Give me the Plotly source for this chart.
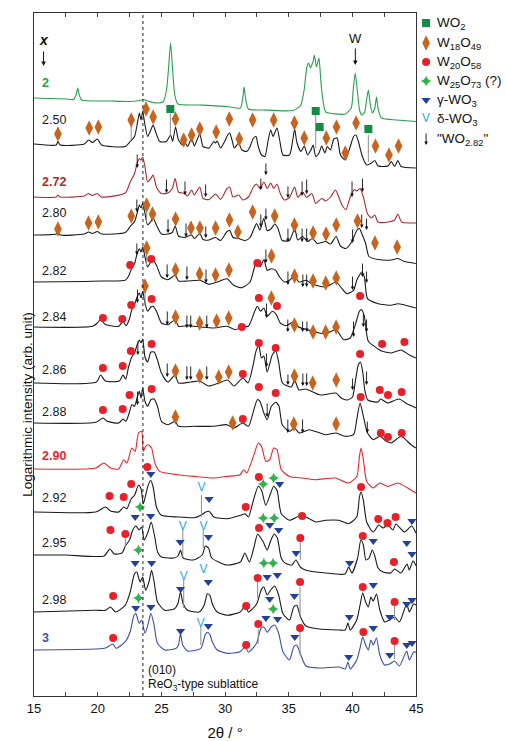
import plotly.graph_objects as go

FONT = "Liberation Sans, Arial, sans-serif"

# ---------------- samples (x in WO_x), stacking offsets, label heights ----------------
labels = ["2", "2.50", "2.72", "2.80", "2.82", "2.84", "2.86", "2.88", "2.90", "2.92", "2.95", "2.98", "3"]
offsets = [598, 552, 499, 461, 414, 369, 313, 273, 227, 184, 141, 84, 46]
label_h = [15, 24, 15, 22, 11, 10, 13, 11, 13, 14, 12, 12, 12]
colors = ["#27a04f", "#1a1a1a", "#ad2a2e", "#1a1a1a", "#1a1a1a", "#1a1a1a", "#1a1a1a",
          "#1a1a1a", "#e8262b", "#1a1a1a", "#1a1a1a", "#1a1a1a", "#3f4ea8"]
bold = [True, False, True, False, False, False, False, False, True, False, False, False, True]

# ---------------- patterns: (2theta, log intensity above own baseline) ----------------
p_200 = [(15.0,0),(17.5,-1),(18.1,-1.5),(18.3,3),(18.43,10),(18.55,3),(18.75,-2),(21.0,-3),(22.4,-3.5),(23.3,-2.5),(23.6,-1.5),(23.9,-3),(24.7,-5),(25.15,-3.5),(25.4,8),(25.55,28),(25.72,55),(25.88,28),(26.05,3),(26.3,-6),(28.0,-7),(30.15,-8.5),(31.2,-10),(31.38,0),(31.49,11),(31.6,0),(31.83,-11),(33.0,-12),(35.3,-12.5),(35.9,-8),(36.2,8),(36.4,30),(36.55,35),(36.7,30),(36.8,33),(36.9,36),(37.0,43),(37.1,36),(37.16,31),(37.28,36),(37.37,40),(37.48,23),(37.58,8),(37.75,-8),(37.9,-14),(39.43,-16),(39.9,-10),(40.05,8),(40.21,25),(40.37,8),(40.55,-12),(40.72,-17),(40.95,-14),(41.1,-2),(41.24,8),(41.38,-5),(41.55,-15),(41.75,-10),(41.88,1),(42.0,-10),(42.27,-20),(43.5,-22),(45.0,-23.5)]
p_250 = [(15.0,0),(16.75,-1),(16.88,2.5),(17.06,-1),(18.94,0),(19.28,4),(19.59,1.5),(19.97,5),(20.3,-1),(22.16,-2.5),(22.55,2.5),(22.89,7.5),(23.07,17.5),(23.27,31),(23.4,24),(23.53,32.5),(23.71,19),(23.92,7.5),(24.17,14),(24.35,19),(24.54,12.5),(24.87,2.5),(25.39,2.5),(25.72,9),(25.88,2.5),(26.11,17),(26.34,4),(26.67,-1),(26.8,2.5),(27.06,-2.5),(27.37,6),(27.58,-2),(28.01,10),(28.27,-2.5),(28.74,-4),(29.12,2.5),(29.25,1),(29.38,3),(29.64,-4),(30.02,4),(30.2,9),(30.36,11),(30.54,4),(30.72,-4),(31.06,1),(31.31,-6),(31.7,-7.5),(31.96,-2.5),(32.22,6),(32.42,7.5),(32.6,-2.5),(32.86,-11),(33.12,-12.5),(33.38,4),(33.58,14),(33.76,7.5),(34.07,16),(34.28,4),(34.54,-11),(35.05,-11),(35.31,4),(35.46,15),(35.64,1),(35.95,-7.5),(36.21,-2),(36.47,-11),(36.73,-6),(36.91,-1),(37.11,-12.5),(37.37,-9),(37.58,-2),(37.83,-9),(38.02,-2.5),(38.27,-6),(38.53,5),(38.79,6),(39.05,-11),(39.43,-16),(39.82,-2.5),(40.08,7.5),(40.26,9),(40.46,2.5),(40.77,-12.5),(41.11,-21),(41.49,-19),(41.75,-16.5),(42.01,-22),(42.78,-22),(43.04,-17.5),(43.3,-22.5),(43.56,-16.5),(43.81,-22.5),(44.97,-24)]
p_272 = [(15.0,0),(16.75,0),(16.88,2),(17.06,0),(18.94,1),(19.28,3.5),(19.59,1.5),(19.97,3.5),(20.3,0),(22.16,4),(22.55,15),(22.89,23.5),(23.09,33.5),(23.27,38.5),(23.4,37),(23.53,40),(23.71,30),(23.92,15),(24.17,18.5),(24.35,22),(24.61,10),(25.0,3.5),(25.51,4),(25.85,8.5),(26.08,18.5),(26.34,5),(26.8,3.5),(27.06,1),(27.37,7),(27.58,2),(28.01,10),(28.27,-1.5),(28.74,-2.5),(29.25,3),(29.64,-2.5),(30.15,8.5),(30.36,10),(30.62,0),(31.06,2),(31.39,-3),(31.83,0),(32.22,10),(32.47,13),(32.73,8.5),(33.04,15),(33.3,8.5),(33.58,14),(33.81,8.5),(34.07,13),(34.33,3.5),(34.66,-3),(35.05,-0.5),(35.46,10),(35.7,-0.5),(36.08,5),(36.39,-0.5),(36.8,3.5),(37.11,-6.5),(37.58,-1.5),(37.89,-4),(38.27,0),(38.66,7),(38.92,0),(39.17,-8),(39.48,-12.5),(39.82,0),(40.15,7.5),(40.33,6),(40.59,8.5),(40.85,0),(41.18,-17),(41.49,-21),(41.75,-18),(42.0,-25),(42.8,-25),(43.3,-23),(43.56,-17),(43.85,-25),(45.0,-26)]
p_280 = [(15.0,0),(16.75,1),(16.88,2.5),(17.06,0),(18.94,1),(19.28,3),(19.59,1.5),(19.97,3.5),(20.3,1),(22.16,2.5),(22.55,8.5),(22.89,13.5),(23.09,21.5),(23.27,30),(23.4,27),(23.53,32),(23.71,21.5),(23.92,10),(24.17,13.5),(24.35,17),(24.61,10),(25.0,1),(25.51,1),(25.85,2.5),(26.08,9),(26.34,-1),(26.8,-2.5),(27.37,0),(27.58,-3.5),(28.01,1.5),(28.27,-4.5),(28.74,-5),(29.25,-2.5),(29.64,-5.5),(30.15,3.5),(30.36,4.5),(30.62,-2.5),(31.06,-3.5),(31.57,-5.5),(31.96,-2.5),(32.27,6.5),(32.47,11.5),(32.73,5),(33.04,16.5),(33.3,4.5),(33.63,6.5),(33.89,11),(34.15,6.5),(34.48,-5.5),(35.05,-5.5),(35.46,6.5),(35.7,-5),(36.08,-1.5),(36.47,-6.5),(36.85,-3.5),(37.24,-8.5),(37.89,-6.5),(38.27,-9),(38.71,-1.5),(39.05,-11),(39.48,-13.5),(39.95,-6.5),(40.33,4.5),(40.54,6.5),(40.77,0),(41.03,-8.5),(41.29,-21.5),(42.01,-24.5),(43.04,-25),(43.56,-23.5),(44.07,-26.5),(44.97,-28.5)]
p_282 = [(15.0,0),(18.94,0.5),(20.3,1),(22.16,1.7),(22.42,5.7),(22.68,14.3),(22.89,18.3),(23.09,28.3),(23.27,33.3),(23.4,30),(23.53,35),(23.71,25),(23.92,15),(24.17,20),(24.35,21.7),(24.61,16.7),(25.0,5),(25.51,2.3),(26.08,6.7),(26.34,1),(27.06,1),(28.01,1.7),(28.74,-2.3),(29.38,0),(30.15,3.3),(30.67,-3.3),(31.31,-5.7),(31.96,0),(32.27,13.3),(32.47,20),(32.73,15),(33.04,22.3),(33.3,11.7),(33.63,13.3),(33.97,11.7),(34.28,5),(34.66,0),(35.05,1.7),(35.46,6.7),(35.77,0),(36.34,1.7),(36.85,-2.3),(37.89,-5),(38.71,0),(39.17,-6.7),(39.56,-11.7),(40.08,-8.3),(40.33,1.7),(40.54,6.7),(40.72,10),(40.93,5),(41.18,-16.7),(42.01,-21.7),(43.04,-23.3),(43.56,-21.7),(44.97,-26)]
p_284 = [(15.0,0),(19.59,0.7),(19.97,4),(20.23,7.7),(20.57,2.7),(21.65,0.7),(21.98,5.7),(22.22,1.3),(22.47,7.3),(22.68,17.3),(22.89,22.3),(23.09,30),(23.27,34),(23.4,29),(23.53,35.7),(23.71,24),(23.92,15.7),(24.17,20),(24.35,20.7),(24.61,15.7),(25.0,4),(25.51,2.3),(26.08,7.3),(26.34,0.7),(27.06,1.3),(28.09,0),(29.12,-1),(30.15,0.7),(30.8,-2.7),(31.31,0),(31.83,0.7),(32.27,14),(32.53,20.7),(32.78,15.7),(33.04,19),(33.3,10.7),(33.71,15.7),(34.02,12.3),(34.33,4),(34.79,1.3),(35.46,5.7),(35.77,0),(36.47,-2.7),(37.37,-6),(37.89,-6.7),(38.71,-2.7),(39.3,-12.7),(39.82,-11),(40.26,4),(40.54,15.7),(40.72,17.3),(40.93,10.7),(41.24,-14.3),(42.01,-22),(42.27,-24),(43.04,-26),(43.81,-23),(44.46,-28),(44.97,-31)]
p_286 = [(15.0,0),(19.9,1),(20.23,8),(20.6,2),(21.7,2),(21.98,8),(22.2,4),(22.42,16),(22.68,26),(22.89,30),(23.09,38),(23.27,43),(23.4,40),(23.53,44),(23.71,26),(23.92,21),(24.17,31),(24.43,31),(24.69,23),(25.0,10),(25.5,1),(26.08,8),(26.34,0),(27.3,1),(28.0,2),(28.7,-3),(29.5,0),(30.2,3),(30.7,-3),(31.39,5),(31.8,0),(32.2,18),(32.45,33),(32.65,37),(32.85,25),(33.04,27),(33.3,11),(33.7,28),(33.97,32),(34.2,21),(34.5,0),(35.2,-4),(35.45,3),(35.8,-7),(36.3,-6),(37.5,-12),(38.7,-10),(39.1,-15),(39.6,-17),(40.0,-14),(40.2,0),(40.45,18),(40.62,21),(40.8,11),(40.96,-7),(41.2,-17),(42.0,-19),(42.2,-16),(42.75,-20),(43.65,-16),(44.3,-21),(45.0,-25)]
p_288 = [(15.0,0),(19.84,0.7),(20.41,5),(20.75,1.7),(21.65,0),(21.98,4),(22.22,1.7),(22.47,10),(22.68,18.3),(22.89,16.7),(23.09,25),(23.27,31.7),(23.4,25),(23.53,35),(23.71,21.7),(23.92,16.7),(24.17,23.3),(24.43,24),(24.69,16.7),(25.0,1.7),(25.51,-1.7),(26.08,1.7),(26.34,-3.3),(27.58,-3.3),(29.12,-3.3),(30.15,-1.7),(30.67,-5),(31.39,0),(31.83,-3.3),(32.22,11.7),(32.53,23.3),(32.73,21.7),(33.04,10),(33.3,3.3),(33.63,16.7),(33.97,20.7),(34.23,16.7),(34.48,-1.7),(35.05,-8.3),(35.44,-5),(35.82,-10),(36.6,-6.7),(37.89,-11.7),(38.71,-10),(39.43,-13.3),(40.08,-11.7),(40.33,3.3),(40.59,20),(40.85,6.7),(41.18,-10),(41.62,-16.7),(42.14,-13.3),(42.65,-18.3),(43.04,-20),(43.81,-13.3),(44.59,-21.7),(44.97,-25)]
p_290 = [(15.0,0),(19.84,1),(20.49,6),(21.0,1),(21.65,0),(22.04,9.3),(22.29,6),(22.68,21),(22.94,17.6),(23.2,36),(23.45,37.6),(23.58,17.6),(23.76,22.6),(23.97,24.3),(24.23,21),(24.48,6),(24.87,-2.4),(26.29,-5.7),(27.58,-7.4),(29.12,-9),(30.15,-7.4),(31.18,-5.7),(31.44,-0.7),(31.7,-4),(32.22,12.6),(32.6,26),(32.86,22.6),(33.19,7.6),(33.5,9.3),(33.81,21),(34.07,19.3),(34.41,-0.7),(35.05,-7.4),(36.08,-9),(37.11,-10.7),(38.66,-9),(39.69,-14),(40.33,-7.4),(40.54,12.6),(40.67,21),(40.85,9.3),(41.11,-12.4),(41.62,-19),(42.14,-14),(42.78,-17.4),(43.56,-14),(44.33,-19),(44.97,-24)]
p_292 = [(15.0,0),(19.84,0),(20.62,5),(21.0,1),(21.65,0),(22.04,5),(22.29,3.3),(22.63,13.3),(22.89,16.7),(23.2,26.7),(23.4,23.3),(23.58,8.3),(23.92,25),(24.15,31.7),(24.35,25),(24.61,5),(25.0,-3.3),(26.29,-5),(27.58,-5.7),(28.09,-3.3),(28.48,0),(28.74,0.7),(29.12,-5),(30.15,-6.7),(31.18,-3.3),(31.57,-1.7),(31.83,-5),(32.22,11.7),(32.6,25.7),(32.86,21.7),(33.19,6.7),(33.56,18.3),(33.81,25.7),(34.07,21.7),(34.41,-1.7),(35.05,-8.3),(35.95,-3.3),(36.6,-6.7),(37.11,-10),(37.89,-8.3),(38.92,-8.3),(39.69,-11.7),(40.33,-5),(40.54,15),(40.67,20),(40.85,11.7),(41.11,-10),(41.62,-20),(42.06,-13),(42.4,-16),(42.78,-13),(43.17,-18),(43.4,-12),(44.07,-20),(44.64,-14),(44.97,-21)]
p_295 = [(15.0,0),(17.5,0),(20.5,-1),(20.95,6),(21.3,1),(21.9,2),(22.17,9),(22.5,15),(22.75,25),(23.0,29),(23.25,25),(23.45,28),(23.65,15),(23.95,23),(24.2,33),(24.45,20),(24.7,3),(25.0,-2),(26.0,-3),(26.3,-1),(26.5,5),(26.7,-3),(27.5,-5),(28.2,0),(28.45,9),(28.7,7),(28.95,-3),(30.15,-10),(31.2,-7),(31.55,2),(31.9,-7),(32.25,7),(32.55,21),(32.8,17),(33.0,13),(33.3,5),(33.6,15),(33.85,21),(34.1,17),(34.4,-3),(34.7,-8),(35.25,-10),(35.55,-5),(35.9,-12),(36.3,-15),(37.9,-18),(39.4,-19),(39.7,-12),(39.95,-18),(40.4,-3),(40.65,15),(40.85,10),(41.05,-5),(41.3,-3),(41.55,5),(41.75,-1),(42.0,-13),(42.4,-17),(43.0,-18),(43.3,-14),(43.8,-18),(44.28,-9),(44.45,-15),(44.75,-6),(45.0,-11)]
p_298 = [(15.0,0),(19.84,1.7),(20.62,1.7),(21.0,5),(21.4,0),(22.16,6.7),(22.55,20),(22.89,38.3),(23.07,40),(23.32,30),(23.53,35),(23.76,21.7),(24.02,30),(24.23,41.7),(24.43,30),(24.69,10),(25.26,1.7),(26.03,3.3),(26.29,8.3),(26.5,20),(26.7,8.3),(27.06,1.7),(27.96,0),(28.35,6.7),(28.61,18.3),(28.81,16.7),(28.99,8.3),(29.38,0),(30.15,-3.3),(31.18,0),(31.57,6),(31.83,0),(32.47,8),(32.86,23),(33.04,25),(33.3,17),(33.63,23),(33.89,26),(34.2,17),(34.54,-1.7),(35.05,-8),(35.39,5),(35.62,6.7),(35.95,-6),(36.34,-14),(37.37,-17),(38.92,-18),(39.43,-18),(39.64,-11),(39.82,-18),(40.33,-8),(40.59,7),(40.8,19),(41.03,10),(41.24,5),(41.44,15),(41.62,11),(41.88,18),(42.14,2),(42.52,-10),(42.91,-8),(43.3,-5),(43.68,-10),(44.25,8),(44.46,0),(44.79,8),(45.0,7)]
p_300 = [(15.0,0),(19.84,1),(20.62,2),(21.0,5),(21.21,5.7),(21.44,1.7),(22.16,8.3),(22.55,18.3),(22.81,33.3),(22.99,36.7),(23.25,26.7),(23.45,30),(23.71,16.7),(23.97,26.7),(24.17,36.7),(24.4,26.7),(24.69,6.7),(25.26,0),(26.16,1.7),(26.34,5),(26.5,16.7),(26.67,5),(27.06,-1),(28.09,1.7),(28.43,15),(28.61,17.7),(28.79,15.7),(28.99,8.3),(29.38,0),(30.15,-3.3),(31.18,-1.7),(31.57,3.3),(31.83,-2.3),(32.47,6.7),(32.81,21.7),(33.04,23),(33.3,17.7),(33.63,23.3),(33.89,25),(34.2,16.7),(34.54,-1.7),(35.05,-10),(35.39,3.3),(35.62,5),(35.88,-3),(36.34,-16),(37.37,-18),(38.92,-17),(39.43,-19),(39.64,-12),(39.82,-19),(40.33,-10),(40.59,2),(40.8,13),(41.03,5),(41.24,0),(41.44,10),(41.62,5),(41.88,12),(42.14,-5),(42.52,-15),(42.91,-14),(43.3,-11),(43.68,-16),(44.25,-1),(44.46,-10),(44.79,-2),(45.0,-2)]
patterns = [p_200, p_250, p_272, p_280, p_282, p_284, p_286, p_288, p_290, p_292, p_295, p_298, p_300]

# ---------------- phase markers (2theta, plot-level log intensity) ----------------
wo2_x = [25.7, 37.11, 37.42, 41.24]
wo2_y = [587, 585, 569, 567]
w18_x = [16.88,19.33,20.05,22.63,23.79,24.35,26.1,26.75,27.37,28.01,29.3,30.33,31.11,32.16,33.81,35.44,36.21,37.94,38.74,39.43,40.28,41.8,42.86,43.61,
         16.88,19.28,20.05,22.63,23.84,24.3,26.11,27.32,28.02,29.25,30.34,31.0,32.16,33.89,35.44,36.9,37.92,38.72,40.39,41.76,43.5,
         23.84,26.11,28.0,29.25,30.3,33.64,35.45,36.9,37.9,38.72,
         23.71,26.11,28.0,29.33,30.28,33.63,35.44,36.9,37.89,38.71,
         26.1,28.0,29.5,30.28,35.44,36.87,38.72,
         26.1,30.59,35.39,38.71]
w18_y = [562,568,569,576,587,579,577,556,561,567,564,577,557,576,576,573,558,558,569,543,573,550,541,550,
         467,473,474,480,491,482,477,468,468,468,476,464,484,480,471,463,462,471,475,453,449,
         448,426,422,421,426,440,420,415,413,418,
         410,379,373,375,378,398,371,364,364,369,
         325,320,319,324,320,313,316,
         279,273,272,272]
w20_x = [22.55,24.2,32.53,
         20.41,21.93,22.63,24.23,31.31,32.65,34.07,40.59,42.32,44.07,
         20.41,21.96,22.6,24.23,31.39,32.65,33.97,40.59,42.14,42.78,43.86,
         20.41,21.96,22.5,24.23,31.39,32.65,33.97,40.64,42.22,42.78,43.86,
         20.93,22.04,22.63,23.89,31.62,32.65,36.04,40.67,42.02,42.74,43.38,
         21.0,22.17,32.66,35.9,40.8,43.25,
         21.21,31.65,32.55,35.88,40.8,43.3,
         21.21,31.65,32.6,35.88,40.85,43.3]
w20_y = [431,437,433,
         378,377,391,397,369,398,390,400,352,354,
         328,330,345,352,322,353,348,342,306,301,304,
         286,287,301,307,277,309,303,299,263,259,263,
         200,199,212,229,189,219,180,209,177,173,179,
         166,162,168,158,160,134,
         100,90,118,114,109,94,
         58,51,72,68,64,55]
w25_x = [32.99,33.81, 23.33,32.99,33.85, 23.2,33.04,33.76, 23.2,33.77]
w25_y = [212,218, 189,178,178, 146,133,133, 98,87]
gam_x = [24.17,28.74,34.28,44.66,
         22.94,24.15,26.47,28.69,33.5,34.2,35.57,39.77,41.63,44.26,44.67,
         22.94,24.23,26.5,28.68,33.3,34.1,33.5,35.44,39.75,41.63,42.92,44.26,44.67,
         22.99,24.17,26.5,28.68,33.2,34.12,35.47,39.7,41.63,42.92,44.26,44.67]
gam_y = [222,197,212,175,
         179,180,154,159,171,166,143,133,155,153,142,
         133,133,107,114,119,121,97,100,79,111,79,92,96,
         88,89,65,70,78,77,59,39,68,41,51,53]
dlt_x = [28.14, 26.68, 28.3, 26.75, 28.3, 28.09]
dlt_y = [208, 169, 169, 119, 126, 72]
# "WO2.82" arrows: (2theta, tip level, arrow length)
arr_282 = [(23.1,528,15),(25.4,503,15),(26.85,501,15),(28.47,499,14),(32.8,506,13),(33.2,521,13),(34.93,498,13),(36.04,500,16),(36.4,502,16),(39.96,499,17),(40.78,504,15),
           (23.07,484,14),(25.52,463,15),(26.93,459,15),(28.48,458,13),(32.8,469,14),(33.2,476,13),(34.93,454,15),(36.04,454,15),(36.4,454,15),(40.0,453,15),(40.72,468,15),(41.1,466,13),
           (23.07,441,13),(25.45,418,15),(27.0,416,15),(28.5,413,15),(33.2,433,15),(34.93,411,15),(36.1,409,14),(36.4,409,14),(40.0,406,15),(40.78,419,15),(41.1,413,13),
           (23.12,393,15),(25.46,371,15),(27.0,368,14),(27.3,368,14),(28.56,368,14),(33.25,378,16),(34.92,364,14),(36.08,364,12),(36.42,364,12),(40.08,359,17),(40.85,369,15),(41.1,364,14),
           (23.15,341,15),(25.46,319,15),(27.0,316,15),(27.3,316,15),(28.56,316,15),(33.25,329,15),(34.93,311,12),(36.1,310,14),(36.4,310,14),(40.0,306,13),(41.1,311,15),
           (23.12,291,15),(33.3,279,15),(34.92,263,15),(36.08,263,15),(41.16,263,13)]
# tie lines from markers down to reflections: (2theta, top, bottom)
ties = [(22.63,571,556),(25.7,582,559),(37.11,581,548),(41.24,561,534),(23.84,486,474),(23.84,444,430),(23.71,405,390),
        (28.14,201,179),(22.17,159,149),(26.68,166,139),(28.28,166,148),(35.9,154,136),
        (26.75,116,88),(32.55,114,98),(35.88,109,79),(43.3,91,76),
        (28.09,69,51),(32.6,67,52),(35.88,66,41),(43.3,51,37)]

C_WO2, C_W18, C_W20, C_W25, C_GAM, C_DLT = "#138c48", "#c8641e", "#e8202a", "#2db34a", "#24409a", "#29abe2"

fig = go.Figure()

for i, pts in enumerate(patterns):
    xs = [p[0] for p in pts]
    ys = [offsets[i] + p[1] for p in pts]
    fig.add_trace(go.Scatter(x=xs, y=ys, mode="lines", line=dict(color=colors[i], width=1.1, shape="spline", smoothing=0.6),
                             hoverinfo="skip", showlegend=False))

tx, ty = [], []
for x, a, b in ties:
    tx += [x, x, None]
    ty += [a, b, None]
fig.add_trace(go.Scatter(x=tx, y=ty, mode="lines", line=dict(color="#8c8c8c", width=1), showlegend=False, hoverinfo="skip"))

def mk(x, y, sym, col, size):
    fig.add_trace(go.Scatter(x=x, y=y, mode="markers", marker=dict(symbol=sym, color=col, size=size, line=dict(width=0)),
                             showlegend=False, hoverinfo="skip"))

mk(wo2_x, wo2_y, "square", C_WO2, 8)
mk(w18_x, w18_y, "diamond-tall", C_W18, 11)
mk(w20_x, w20_y, "circle", C_W20, 8)
mk(w25_x, w25_y, "star-diamond", C_W25, 8)
mk(gam_x, gam_y, "triangle-down", C_GAM, 8)
fig.add_trace(go.Scatter(x=dlt_x, y=dlt_y, mode="text", text=["V"] * len(dlt_x),
                         textfont=dict(color=C_DLT, size=12, family=FONT), showlegend=False, hoverinfo="skip"))

ann = []
for x, tip, ln in arr_282:
    ann.append(dict(x=x, y=tip, xref="x", yref="y", ax=0, ay=-ln, showarrow=True, arrowhead=2, arrowsize=0.8,
                    arrowwidth=0.9, arrowcolor="#111111", text=""))

for i, lab in enumerate(labels):
    txt = "<b>%s</b>" % lab if bold[i] else lab
    ann.append(dict(x=15.45, y=offsets[i] + label_h[i], xref="x", yref="y", text=txt, showarrow=False,
                    xanchor="left", yanchor="middle", font=dict(family=FONT, size=12.5, color=colors[i])))

# x arrow (top left) and W arrow
ann.append(dict(x=15.75, y=656, xref="x", yref="y", text="<b><i>x</i></b>", showarrow=False,
                font=dict(family=FONT, size=14, color="#111111")))
ann.append(dict(x=15.75, y=630, xref="x", yref="y", ax=0, ay=-16, showarrow=True, arrowhead=2, arrowsize=0.9,
                arrowwidth=1, arrowcolor="#111111", text=""))
ann.append(dict(x=40.22, y=658, xref="x", yref="y", text="W", showarrow=False,
                font=dict(family=FONT, size=13, color="#111111")))
ann.append(dict(x=40.22, y=631, xref="x", yref="y", ax=0, ay=-18, showarrow=True, arrowhead=2, arrowsize=0.9,
                arrowwidth=1, arrowcolor="#111111", text=""))

ann.append(dict(x=23.8, y=26, xref="x", yref="y", text="(010)", showarrow=False, xanchor="left",
                font=dict(family=FONT, size=12, color="#111111")))
ann.append(dict(x=23.8, y=11, xref="x", yref="y", text="ReO<sub>3</sub>-type sublattice", showarrow=False, xanchor="left",
                font=dict(family=FONT, size=12, color="#111111")))

ann.append(dict(x=-0.036, y=292, xref="paper", yref="y", text="Logarithmic intensity (arb. unit)", textangle=-90,
                showarrow=False, font=dict(family=FONT, size=13.5, color="#111111")))

# ---------------- custom legend ----------------
leg_names = ["WO<sub>2</sub>", "W<sub>18</sub>O<sub>49</sub>", "W<sub>20</sub>O<sub>58</sub>", "W<sub>25</sub>O<sub>73</sub> (?)",
             "γ-WO<sub>3</sub>", "δ-WO<sub>3</sub>", "\"WO<sub>2.82</sub>\""]
leg_y = [673, 653, 634, 615, 596, 577, 557]
leg_sym = ["square", "diamond-tall", "circle", "star-diamond", "triangle-down"]
leg_col = [C_WO2, C_W18, C_W20, C_W25, C_GAM]
leg_size = [8, 11, 8, 8, 8]
for k in range(5):
    fig.add_trace(go.Scatter(x=[432], y=[leg_y[k]], xaxis="x2", yaxis="y2", mode="markers",
                             marker=dict(symbol=leg_sym[k], color=leg_col[k], size=leg_size[k]),
                             showlegend=False, hoverinfo="skip"))
fig.add_trace(go.Scatter(x=[432], y=[leg_y[5]], xaxis="x2", yaxis="y2", mode="text", text=["V"],
                         textfont=dict(color=C_DLT, size=12, family=FONT), showlegend=False, hoverinfo="skip"))
ann.append(dict(x=432, y=leg_y[6] - 6, xref="x2", yref="y2", ax=0, ay=-13, showarrow=True, arrowhead=2, arrowsize=0.8,
                arrowwidth=0.9, arrowcolor="#111111", text=""))
for k, nm in enumerate(leg_names):
    ann.append(dict(x=441, y=leg_y[k], xref="x2", yref="y2", text=nm, showarrow=False, xanchor="left", yanchor="middle",
                    font=dict(family=FONT, size=13.5, color="#111111")))

fig.update_layout(
    width=506, height=741, margin=dict(l=34, r=0, t=13, b=45),
    paper_bgcolor="white", plot_bgcolor="white",
    annotations=ann,
    shapes=[dict(type="line", xref="x", yref="paper", x0=23.55, x1=23.55, y0=0, y1=1,
                 line=dict(color="#222222", width=1, dash="dot"))],
    xaxis=dict(domain=[0, 388 / 472], range=[15, 45], dtick=5, tick0=15, ticks="inside", ticklen=4, tickwidth=1,
               minor=dict(dtick=2.5, ticks="inside", ticklen=4, tickwidth=1),
               showline=True, linecolor="#333333", linewidth=1.2, mirror="ticks", showgrid=False, zeroline=False,
               tickfont=dict(family=FONT, size=13, color="#111111"),
               title=dict(text="2θ / °", font=dict(family=FONT, size=15, color="#111111"), standoff=14)),
    yaxis=dict(range=[0, 683], showticklabels=False, ticks="", showgrid=False, zeroline=False,
               showline=True, linecolor="#333333", linewidth=1.2, mirror=True),
    xaxis2=dict(domain=[388 / 472, 1], range=[422, 506], visible=False, anchor="y2"),
    yaxis2=dict(domain=[0, 1], range=[0, 683], visible=False, anchor="x2"),
)

fig.write_html("out.html")
